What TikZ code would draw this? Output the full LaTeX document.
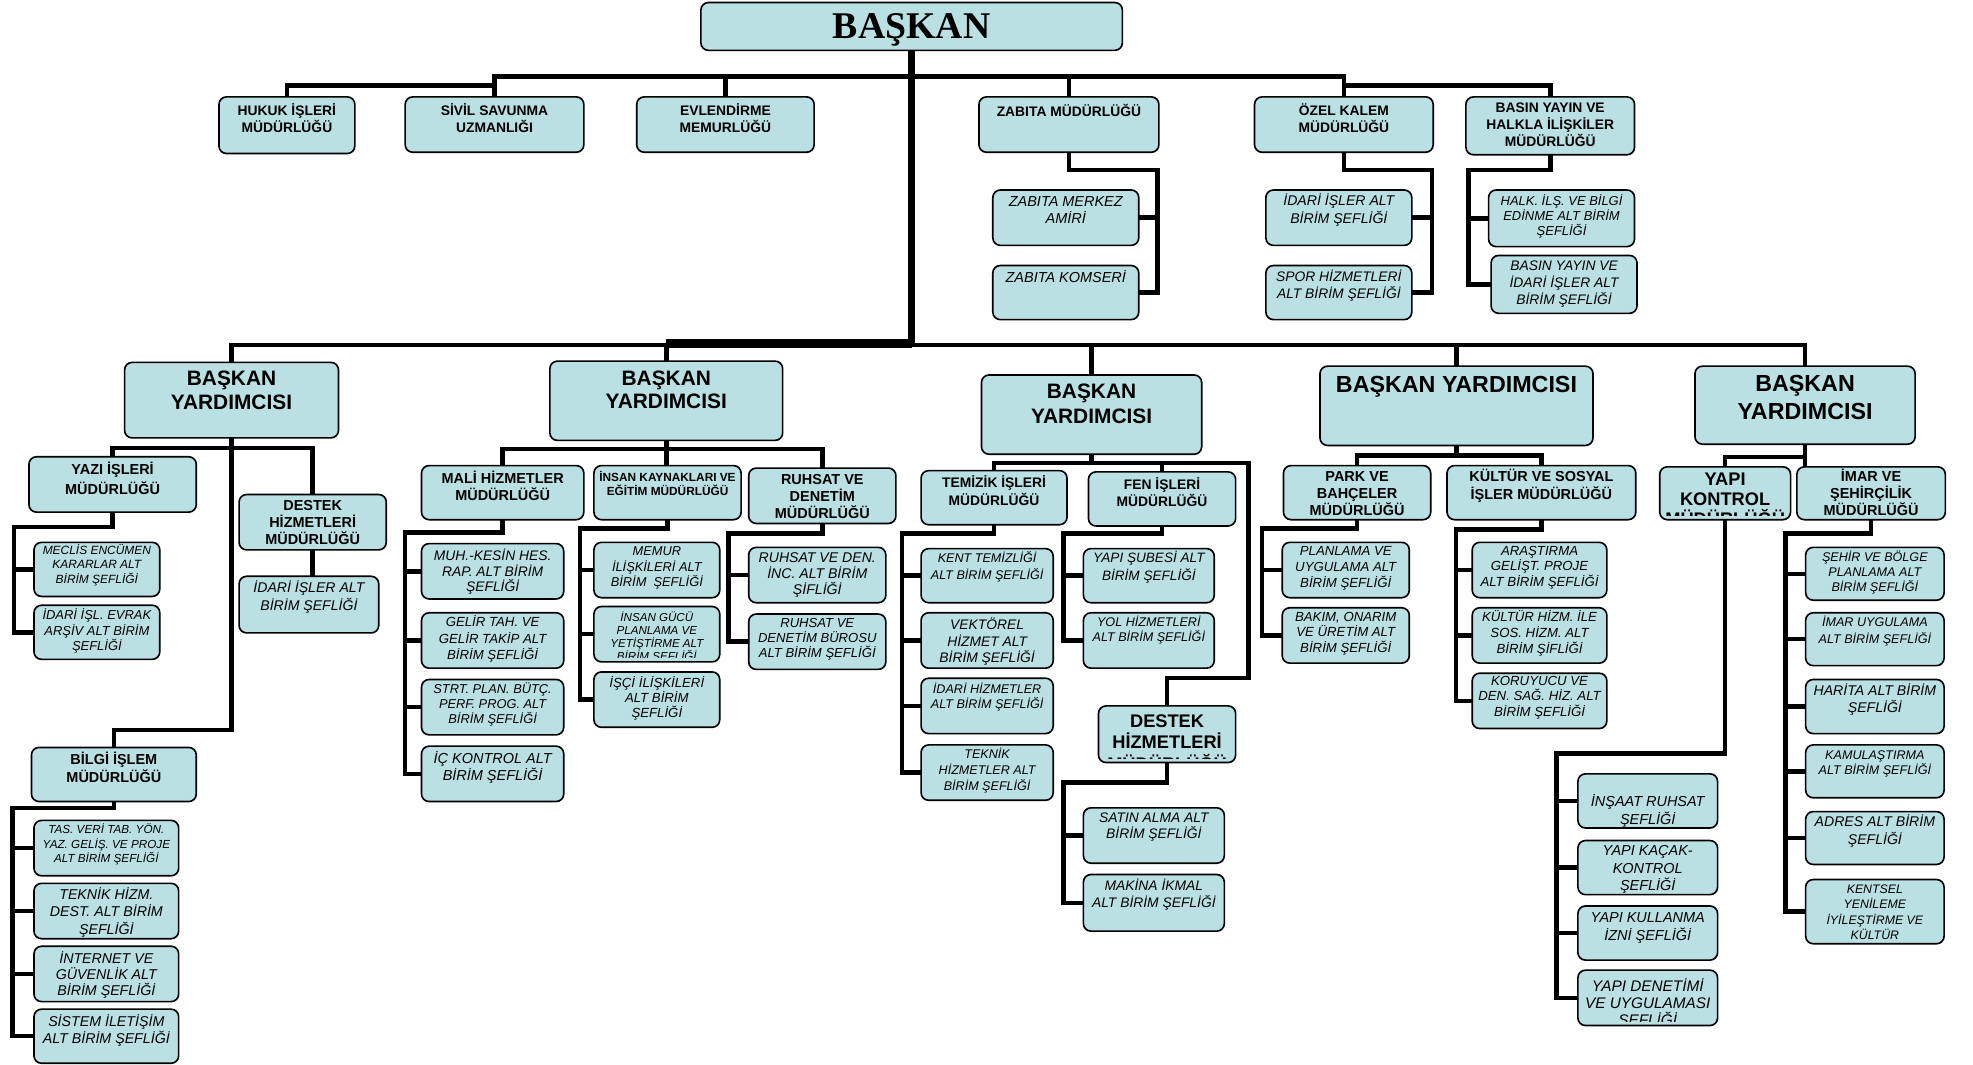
\documentclass[tikz,border=0pt]{standalone}
\usepackage{fontspec}
\setmainfont{Liberation Sans}
\newfontfamily\serifbold{Liberation Serif}
\definecolor{boxfill}{RGB}{186,224,228}
\tikzset{
  box/.style={draw=black, line width=1.3pt, fill=boxfill, rounded corners=6pt, inner sep=0pt, outer sep=0pt},
  conn/.style={draw=black, line width=3.6pt, line join=miter},
  trunk/.style={draw=black, line width=6pt, line join=miter},
  B/.style 2 args={font=\fontsize{#1}{#2}\selectfont\bfseries, align=center, inner sep=0pt},
  I/.style 2 args={font=\fontsize{#1}{#2}\selectfont\itshape, align=center, inner sep=0pt},
}
% name, x1, y1, x2, y2, text style, text centre y, text
\newcommand\obox[8]{%
  \node[box, minimum width={(#4)-(#2)}, minimum height={(#5)-(#3)}] (#1) at ({((#2)+(#4))/2},{((#3)+(#5))/2}) {};
  \node[#6] (#1t) at ({((#2)+(#4))/2},#7) {#8};}
\newcommand\oboxc[8]{%
  \node[box, minimum width={(#4)-(#2)}, minimum height={(#5)-(#3)}] (#1) at ({((#2)+(#4))/2},{((#3)+(#5))/2}) {};
  \begin{scope}
    \clip[rounded corners=6pt] (#2,#3) rectangle (#4,{(#5)-3.5});
    \node[#6] (#1t) at ({((#2)+(#4))/2},#7) {#8};
  \end{scope}}
\begin{document}
\begin{tikzpicture}[x=1pt,y=-1pt]
\fill[white] (0,0) rectangle (1568,846);
\useasboundingbox (0,0) rectangle (1568,846);

% ---------- top ----------
\obox{baskan}{557}{2}{892}{40}{font=\serifbold\bfseries\fontsize{30}{32}\selectfont, inner sep=0pt}{23.5}{BAŞKAN}
\obox{hukuk}{174}{77}{282}{122}{B={11}{14}}{94}{HUKUK İŞLERİ\\MÜDÜRLÜĞÜ}
\obox{sivil}{322}{77}{464}{121}{B={11}{14}}{94}{SİVİL SAVUNMA\\UZMANLIĞI}
\obox{evlen}{506}{77}{647}{121}{B={11}{14}}{94}{EVLENDİRME\\MEMURLÜĞÜ}
\obox{zabita}{778}{77}{921}{121}{B={11}{14}}{88}{ZABITA MÜDÜRLÜĞÜ}
\obox{ozel}{997}{77}{1139}{121}{B={11}{14}}{94}{ÖZEL KALEM\\MÜDÜRLÜĞÜ}
\obox{basin}{1165}{77}{1299}{123}{B={11}{13.5}}{99.5}{BASIN YAYIN VE\\HALKLA İLİŞKİLER\\MÜDÜRLÜĞÜ}

\obox{zmerkez}{789}{151}{905}{195}{I={11.5}{14}}{167}{ZABITA MERKEZ\\AMİRİ}
\obox{zkomser}{789}{211}{905}{254}{I={11.5}{14}}{220}{ZABITA KOMSERİ}
\obox{oidari}{1006}{151}{1122}{195}{I={11.2}{14}}{167}{İDARİ İŞLER ALT\\BİRİM ŞEFLİĞİ}
\obox{ospor}{1006}{211}{1122}{254}{I={11}{14}}{227}{SPOR HİZMETLERİ\\ALT BİRİM ŞEFLİĞİ}
\obox{bhalk}{1183}{151}{1299}{196}{I={10.3}{12}}{172}{HALK. İLŞ. VE BİLGİ\\EDİNME ALT BİRİM\\ŞEFLİĞİ}
\obox{bbasin}{1185}{203}{1301}{249}{I={11}{13.5}}{225.5}{BASIN YAYIN VE\\İDARİ İŞLER ALT\\BİRİM ŞEFLİĞİ}

% ---------- deputies ----------
\obox{vp1}{99}{288}{269}{348}{B={16.6}{19}}{310.5}{BAŞKAN\\YARDIMCISI}
\obox{vp2}{437}{287}{622}{350}{B={16.6}{18.5}}{310}{BAŞKAN\\YARDIMCISI}
\obox{vp3}{780}{298}{955}{361}{B={16.6}{20}}{321}{BAŞKAN\\YARDIMCISI}
\obox{vp4}{1049}{291}{1266}{354}{B={18.5}{21}}{307}{BAŞKAN YARDIMCISI}
\obox{vp5}{1347}{291}{1522}{353}{B={18.5}{22}}{316}{BAŞKAN\\YARDIMCISI}

% ---------- directorates ----------
\obox{yazi}{23}{363}{156}{407}{B={11.5}{16}}{380}{YAZI İŞLERİ\\MÜDÜRLÜĞÜ}
\obox{destekm}{190}{393}{307}{437}{B={11.5}{13.5}}{415.5}{DESTEK\\HİZMETLERİ\\MÜDÜRLÜĞÜ}
\obox{bilgi}{25}{594}{156}{637}{B={11.5}{14}}{610}{BİLGİ İŞLEM\\MÜDÜRLÜĞÜ}
\obox{mali}{335}{370}{464}{413}{B={11.5}{14}}{386}{MALİ HİZMETLER\\MÜDÜRLÜĞÜ}
\obox{insan}{472}{370}{589}{413}{B={9.4}{11}}{384.5}{İNSAN KAYNAKLARI VE\\EĞİTİM MÜDÜRLÜĞÜ}
\obox{ruhsat}{595}{372}{712}{416}{B={11.5}{13.5}}{394.5}{RUHSAT VE\\DENETİM\\MÜDÜRLÜĞÜ}
\obox{temiz}{732}{374}{848}{417}{B={11}{14}}{390}{TEMİZİK İŞLERİ\\MÜDÜRLÜĞÜ}
\obox{fen}{865}{375}{982}{418}{B={11}{14}}{391}{FEN İŞLERİ\\MÜDÜRLÜĞÜ}
\oboxc{destek2}{873}{561}{982}{606}{B={14.5}{17}}{590}{DESTEK\\HİZMETLERİ\\MÜDÜRLÜĞÜ}
\obox{park}{1020}{370}{1137}{413}{B={11.5}{13.5}}{392.5}{PARK VE\\BAHÇELER\\MÜDÜRLÜĞÜ}
\obox{kultur}{1150}{370}{1300}{413}{B={11.5}{14}}{386}{KÜLTÜR VE SOSYAL\\İŞLER MÜDÜRLÜĞÜ}
\oboxc{yapik}{1319}{371}{1423}{413}{B={14.5}{16}}{397}{YAPI\\KONTROL\\MÜDÜRLÜĞÜ}
\obox{imar}{1428}{371}{1546}{413}{B={11.5}{13.5}}{391.5}{İMAR VE\\ŞEHİRÇİLİK\\MÜDÜRLÜĞÜ}

% ---------- units ----------
\obox{meclis}{27}{431}{127}{474}{I={9.5}{11.4}}{449}{MECLİS ENCÜMEN\\KARARLAR ALT\\BİRİM ŞEFLİĞİ}
\obox{idarisl}{27}{481}{127}{524}{I={10.3}{12}}{501.5}{İDARİ İŞL. EVRAK\\ARŞİV ALT BİRİM\\ŞEFLİĞİ}
\obox{didari}{190}{458}{301}{503}{I={11.2}{15}}{474.5}{İDARİ İŞLER ALT\\BİRİM ŞEFLİĞİ}
\obox{tas}{27}{652}{142}{696}{I={9.3}{11.3}}{671}{TAS. VERİ TAB. YÖN.\\YAZ. GELİŞ. VE PROJE\\ALT BİRİM ŞEFLİĞİ}
\obox{teknik}{27}{702}{142}{746}{I={11.3}{14}}{725}{TEKNİK HİZM.\\DEST. ALT BİRİM\\ŞEFLİĞİ}
\obox{internet}{27}{752}{142}{796}{I={11.3}{13}}{775}{İNTERNET VE\\GÜVENLİK ALT\\BİRİM ŞEFLİĞİ}
\obox{sistem}{27}{802}{142}{845}{I={11.3}{14}}{819}{SİSTEM İLETİŞİM\\ALT BİRİM ŞEFLİĞİ}

\obox{muh}{335}{432}{448}{476}{I={11}{12.5}}{454.5}{MUH.-KESİN HES.\\RAP. ALT BİRİM\\ŞEFLİĞİ}
\obox{gelir}{335}{487}{448}{531}{I={10.5}{13}}{508}{GELİR TAH. VE\\GELİR TAKİP ALT\\BİRİM ŞEFLİĞİ}
\obox{strt}{335}{540}{448}{584}{I={10.2}{12}}{560}{STRT. PLAN. BÜTÇ.\\PERF. PROG. ALT\\BİRİM ŞEFLİĞİ}
\obox{ickont}{335}{593}{448}{637}{I={11.5}{14}}{610}{İÇ KONTROL ALT\\BİRİM ŞEFLİĞİ}

\obox{memur}{472}{431}{572}{475}{I={10.2}{12.5}}{451.5}{MEMUR\\İLİŞKİLERİ ALT\\BİRİM\ \ ŞEFLİĞİ}
\oboxc{igucu}{472}{482}{572}{526}{I={9.2}{10.5}}{506.5}{İNSAN GÜCÜ\\PLANLAMA VE\\YETİŞTİRME ALT\\BİRİM ŞEFLİĞİ}
\obox{isci}{472}{534}{572}{578}{I={10.5}{12}}{555}{İŞÇİ İLİŞKİLERİ\\ALT BİRİM\\ŞEFLİĞİ}

\obox{rden}{595}{435}{704}{479}{I={11.2}{13}}{457}{RUHSAT VE DEN.\\İNC. ALT BİRİM\\ŞİFLİĞİ}
\obox{rburo}{595}{488}{704}{532}{I={10.4}{12}}{508}{RUHSAT VE\\DENETİM BÜROSU\\ALT BİRİM ŞEFLİĞİ}

\obox{kent}{732}{436}{837}{479}{I={10}{13}}{450.5}{KENT TEMİZLİĞİ\\ALT BİRİM ŞEFLİĞİ}
\obox{vektor}{732}{487}{837}{531}{I={11}{13}}{510}{VEKTÖREL\\HİZMET ALT\\BİRİM ŞEFLİĞİ}
\obox{tidari}{732}{539}{837}{583}{I={10}{12}}{554}{İDARİ HİZMETLER\\ALT BİRİM ŞEFLİĞİ}
\obox{tteknik}{732}{592}{837}{636}{I={10}{12.5}}{612.5}{TEKNİK\\HİZMETLER ALT\\BİRİM ŞEFLİĞİ}
\obox{yapisube}{861}{436}{965}{479}{I={10.8}{14}}{451}{YAPI ŞUBESİ ALT\\BİRİM ŞEFLİĞİ}
\obox{yol}{861}{487}{965}{531}{I={10}{12}}{501}{YOL HİZMETLERİ\\ALT BİRİM ŞEFLİĞİ}
\obox{satin}{861}{642}{973}{686}{I={11}{13}}{657.5}{SATIN ALMA ALT\\BİRİM ŞEFLİĞİ}
\obox{makina}{861}{695}{973}{740}{I={11}{14}}{711}{MAKİNA İKMAL\\ALT BİRİM ŞEFLİĞİ}

\obox{pplan}{1019}{431}{1120}{475}{I={10.5}{12.5}}{451.5}{PLANLAMA VE\\UYGULAMA ALT\\BİRİM ŞEFLİĞİ}
\obox{pbakim}{1019}{483}{1120}{527}{I={10.5}{12.5}}{503.5}{BAKIM, ONARIM\\VE ÜRETİM ALT\\BİRİM ŞEFLİĞİ}
\obox{arast}{1170}{431}{1277}{475}{I={10.5}{12.5}}{451}{ARAŞTIRMA\\GELİŞT. PROJE\\ALT BİRİM ŞEFLİĞİ}
\obox{khizm}{1170}{483}{1277}{527}{I={10.5}{12.5}}{503.5}{KÜLTÜR HİZM. İLE\\SOS. HİZM. ALT\\BİRİM ŞİFLİĞİ}
\obox{koru}{1170}{535}{1277}{579}{I={10.5}{12.5}}{554.5}{KORUYUCU VE\\DEN. SAĞ. HİZ. ALT\\BİRİM ŞEFLİĞİ}

\obox{insaat}{1254}{615}{1365}{658}{I={11.5}{15}}{644.5}{İNŞAAT RUHSAT\\ŞEFLİĞİ}
\obox{kacak}{1254}{668}{1365}{711}{I={11.5}{14}}{691}{YAPI KAÇAK-\\KONTROL\\ŞEFLİĞİ}
\obox{kullan}{1254}{720}{1365}{763}{I={11.5}{15}}{737.5}{YAPI KULLANMA\\İZNİ ŞEFLİĞİ}
\oboxc{denet}{1254}{771}{1365}{815}{I={12.2}{13.5}}{798}{YAPI DENETİMİ\\VE UYGULAMASI\\ŞEFLİĞİ}

\obox{sehir}{1435}{435}{1545}{477}{I={10}{12}}{455}{ŞEHİR VE BÖLGE\\PLANLAMA ALT\\BİRİM ŞEFLİĞİ}
\obox{imaru}{1435}{487}{1545}{529}{I={10}{13}}{501.5}{İMAR UYGULAMA\\ALT BİRİM ŞEFLİĞİ}
\obox{harita}{1435}{540}{1545}{583}{I={11.2}{14}}{556}{HARİTA ALT BİRİM\\ŞEFLİĞİ}
\obox{kamu}{1435}{592}{1545}{634}{I={10}{12}}{607}{KAMULAŞTIRMA\\ALT BİRİM ŞEFLİĞİ}
\obox{adres}{1435}{645}{1545}{687}{I={11.2}{15}}{660.5}{ADRES ALT BİRİM\\ŞEFLİĞİ}
\obox{kentsel}{1435}{699}{1545}{750}{I={9.8}{12}}{725}{KENTSEL\\YENİLEME\\İYİLEŞTİRME VE\\KÜLTÜR}

% ---------- connectors: top ----------
\coordinate (yTop) at (0,61);
\coordinate (yTopB) at (0,68);
\coordinate (mb) at (0,274);
\draw[trunk] (baskan.south) -- (baskan.south |- mb);
\draw[conn] (hukuk.north) -- (hukuk.north |- yTopB) -- (sivil.north |- yTopB);
\draw[conn] (sivil.north) -- (sivil.north |- yTop) -- (ozel.north |- yTop) -- (ozel.north);
\draw[conn] (evlen.north) -- (evlen.north |- yTop);
\draw[conn] (zabita.north) -- (zabita.north |- yTop);
\draw[conn] (ozel.north |- yTopB) -- (basin.north |- yTopB) -- (basin.north);

\coordinate (zb) at (920,135);
\draw[conn] (zabita.south) |- (zb) |- (zkomser.east);
\draw[conn] (zb |- zmerkez.east) -- (zmerkez.east);
\coordinate (ob) at (1138,135);
\draw[conn] (ozel.south) |- (ob) |- (ospor.east);
\draw[conn] (ob |- oidari.east) -- (oidari.east);
\coordinate (bb) at (1167,135);
\draw[conn] (basin.south) |- (bb) |- (bbasin.west);
\draw[conn] (bb |- bhalk.west) -- (bhalk.west);

% ---------- main bus ----------
\draw[conn] (vp1.north) -- (vp1.north |- mb) -- (vp5.north |- mb) -- (vp5.north);
\draw[conn] (vp2.north) -- (vp2.north |- mb);
\draw[conn] (vp3.north) -- (vp3.north |- mb);
\draw[conn] (vp4.north) -- (vp4.north |- mb);
\draw[line width=6.5pt] ([yshift=1pt]vp2.north |- mb) -- ([yshift=1pt]baskan.south |- mb);

% ---------- VP1 ----------
\coordinate (b1) at (0,356);
\coordinate (b1c) at (0,580);
\draw[conn] (yazi.north) -- (yazi.north |- b1) -- (destekm.north |- b1) -- (destekm.north);
\draw[conn] (vp1.south) -- (vp1.south |- b1c) -- (bilgi.north |- b1c) -- (bilgi.north);
\coordinate (yb) at (11,419);
\draw[conn] (yazi.south) |- (yb) |- (idarisl.west);
\draw[conn] (yb |- meclis.west) -- (meclis.west);
\draw[conn] (destekm.south) -- (destekm.south |- didari.north);
\coordinate (bib) at (10,642);
\draw[conn] (bilgi.south) |- (bib) |- (sistem.west);
\draw[conn] (bib |- tas.west) -- (tas.west);
\draw[conn] (bib |- teknik.west) -- (teknik.west);
\draw[conn] (bib |- internet.west) -- (internet.west);

% ---------- VP2 ----------
\coordinate (b2) at (0,357);
\draw[conn] (mali.north) -- (mali.north |- b2) -- (ruhsat.north |- b2) -- (ruhsat.north);
\draw[conn] (vp2.south) -- (vp2.south |- insan.north);
\coordinate (mb2) at (322,423);
\draw[conn] (mali.south) |- (mb2) |- (ickont.west);
\draw[conn] (mb2 |- muh.west) -- (muh.west);
\draw[conn] (mb2 |- gelir.west) -- (gelir.west);
\draw[conn] (mb2 |- strt.west) -- (strt.west);
\coordinate (ib2) at (461,420);
\draw[conn] (insan.south) |- (ib2) |- (isci.west);
\draw[conn] (ib2 |- memur.west) -- (memur.west);
\draw[conn] (ib2 |- igucu.west) -- (igucu.west);
\coordinate (rb2) at (579,424);
\draw[conn] (ruhsat.south) |- (rb2) |- (rburo.west);
\draw[conn] (rb2 |- rden.west) -- (rden.west);

% ---------- VP3 ----------
\coordinate (b3) at (0,368);
\coordinate (b3r) at (992,368);
\coordinate (b3d) at (0,539);
\draw[conn] (temiz.north) -- (temiz.north |- b3) -- (b3r) -- (b3r |- b3d) -- (destek2.north |- b3d) -- (destek2.north);
\draw[conn] (fen.north) -- (fen.north |- b3);
\draw[conn] (vp3.south) -- (vp3.south |- b3);
\coordinate (tb3) at (717,424);
\draw[conn] (temiz.south) |- (tb3) |- (tteknik.west);
\draw[conn] (tb3 |- kent.west) -- (kent.west);
\draw[conn] (tb3 |- vektor.west) -- (vektor.west);
\draw[conn] (tb3 |- tidari.west) -- (tidari.west);
\coordinate (fb3) at (845,424);
\draw[conn] (fen.south) |- (fb3) |- (yol.west);
\draw[conn] (fb3 |- yapisube.west) -- (yapisube.west);
\coordinate (db3) at (845,622);
\draw[conn] (destek2.south) |- (db3) |- (makina.west);
\draw[conn] (db3 |- satin.west) -- (satin.west);

% ---------- VP4 ----------
\coordinate (b4) at (0,362);
\draw[conn] (park.north) -- (park.north |- b4) -- (kultur.north |- b4) -- (kultur.north);
\draw[conn] (vp4.south) -- (vp4.south |- b4);
\coordinate (pb4) at (1003,420);
\draw[conn] (park.south) |- (pb4) |- (pbakim.west);
\draw[conn] (pb4 |- pplan.west) -- (pplan.west);
\coordinate (kb4) at (1157,421);
\draw[conn] (kultur.south) |- (kb4) |- (koru.west);
\draw[conn] (kb4 |- arast.west) -- (arast.west);
\draw[conn] (kb4 |- khizm.west) -- (khizm.west);

% ---------- VP5 ----------
\coordinate (b5) at (0,363);
\draw[conn] (vp5.south) -- (vp5.south |- imar.north);
\draw[conn] (vp5.south |- b5) -- (yapik.north |- b5) -- (yapik.north);
\coordinate (yb5) at (1237,599);
\draw[conn] (yapik.south) |- (yb5) |- (denet.west);
\draw[conn] (yb5 |- insaat.west) -- (insaat.west);
\draw[conn] (yb5 |- kacak.west) -- (kacak.west);
\draw[conn] (yb5 |- kullan.west) -- (kullan.west);
\coordinate (ib5) at (1419,424);
\draw[conn] (imar.south) |- (ib5) |- (kentsel.west);
\draw[conn] (ib5 |- sehir.west) -- (sehir.west);
\draw[conn] (ib5 |- imaru.west) -- (imaru.west);
\draw[conn] (ib5 |- harita.west) -- (harita.west);
\draw[conn] (ib5 |- kamu.west) -- (kamu.west);
\draw[conn] (ib5 |- adres.west) -- (adres.west);
\end{tikzpicture}
\end{document}
